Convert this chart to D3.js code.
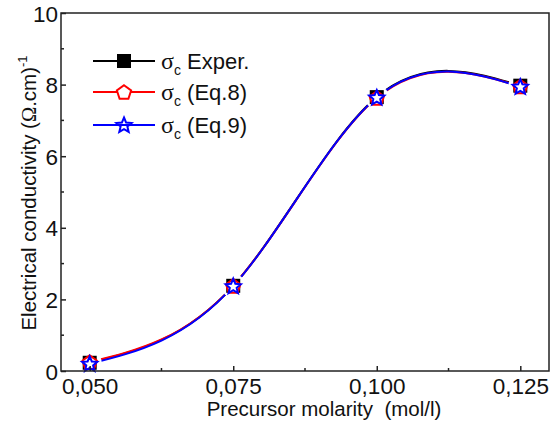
<!DOCTYPE html>
<html>
<head>
<meta charset="utf-8">
<script src="https://cdn.jsdelivr.net/npm/d3@7"></script>
<style>
  body { margin: 0; background: #fff; }
  text { font-family: "Liberation Sans", Arial, sans-serif; }
</style>
</head>
<body>
<script>
// data
const molarity = [0.050, 0.075, 0.100, 0.125];
const sigmaExper = [0.23, 2.38, 7.65, 7.97];
const sigmaEq8 = [0.25, 2.38, 7.63, 7.95];
const sigmaEq9 = [0.20, 2.37, 7.64, 7.94];
const xTicks = [0.050, 0.075, 0.100, 0.125];
const yTicks = [0, 2, 4, 6, 8, 10];
const seriesNames = ["Exper.", "(Eq.8)", "(Eq.9)"];

const w = 555;
const h = 425;
const margin = { left: 61, right: 6, top: 13, bottom: 54 };

const x = d3.scaleLinear().domain([0.045, 0.130]).range([margin.left, w - margin.right]);
const y = d3.scaleLinear().domain([0, 10]).range([h - margin.bottom, margin.top]);

const fmt = v => d3.format(".3f")(v).replace(".", ",");

const svg = d3.select("body").append("svg").attr("width", w).attr("height", h);

const series = [
  { name: seriesNames[0], values: sigmaExper, color: "#000000", symbol: "square" },
  { name: seriesNames[1], values: sigmaEq8, color: "#ff0000", symbol: "pentagon" },
  { name: seriesNames[2], values: sigmaEq9, color: "#0000ff", symbol: "star" },
];

// mask so the curves stop short of the symbols
const defs = svg.append("defs");
const mask = defs.append("mask").attr("id", "gaps").attr("maskUnits", "userSpaceOnUse")
  .attr("x", 0).attr("y", 0).attr("width", w).attr("height", h);
mask.append("rect").attr("width", w).attr("height", h).attr("fill", "#fff");
mask.selectAll("circle").data(molarity).enter().append("circle")
  .attr("cx", d => x(d))
  .attr("cy", (d, i) => y(sigmaExper[i]))
  .attr("r", 12)
  .attr("fill", "#000");

const line = d3.line()
  .x((d, i) => x(molarity[i]))
  .y(d => y(d))
  .curve(d3.curveNatural);

const curves = svg.append("g").attr("mask", "url(#gaps)");
series.forEach(s => {
  curves.append("path")
    .attr("d", line(s.values))
    .attr("fill", "none")
    .attr("stroke", s.color)
    .attr("stroke-width", 2);
});

// symbol shapes
function pentagon(r) {
  const pts = d3.range(5).map(k => {
    const a = -Math.PI / 2 + k * 2 * Math.PI / 5;
    return [r * Math.cos(a), r * Math.sin(a)];
  });
  return "M" + pts.join("L") + "Z";
}
function star(r) {
  const pts = d3.range(10).map(k => {
    const a = -Math.PI / 2 + k * Math.PI / 5;
    const rr = k % 2 ? r * 0.45 : r;
    return [rr * Math.cos(a), rr * Math.sin(a)];
  });
  return "M" + pts.join("L") + "Z";
}

function drawSymbol(g, s, cx, cy) {
  if (s.symbol === "square") {
    g.append("rect").attr("x", cx - 7).attr("y", cy - 7).attr("width", 14).attr("height", 14)
      .attr("fill", s.color);
  } else if (s.symbol === "pentagon") {
    g.append("path").attr("d", pentagon(7.5)).attr("transform", `translate(${cx},${cy + 0.8})`)
      .attr("fill", "#fff").attr("stroke", s.color).attr("stroke-width", 2);
  } else {
    g.append("path").attr("d", star(8)).attr("transform", `translate(${cx},${cy + 0.5})`)
      .attr("fill", "none").attr("stroke", s.color).attr("stroke-width", 2);
  }
}

const symbols = svg.append("g");
series.forEach(s => {
  s.values.forEach((v, i) => drawSymbol(symbols, s, x(molarity[i]), y(v)));
});

// axes, ticks inside
const axisColor = "#222";
const xAxis = svg.append("g").attr("transform", `translate(0,${h - margin.bottom})`)
  .call(d3.axisBottom(x).tickValues(xTicks).tickSizeInner(-5).tickSizeOuter(0).tickPadding(7).tickFormat(fmt));
xAxis.append("g").selectAll("line")
  .data(d3.range(0.0625, 0.13, 0.025))
  .enter().append("line")
  .attr("x1", d => x(d)).attr("x2", d => x(d)).attr("y1", 0).attr("y2", -3);

const yAxis = svg.append("g").attr("transform", `translate(${margin.left},0)`)
  .call(d3.axisLeft(y).tickValues(yTicks).tickSizeInner(-5).tickSizeOuter(0).tickPadding(3));
yAxis.append("g").selectAll("line")
  .data([1, 3, 5, 7, 9])
  .enter().append("line")
  .attr("y1", d => y(d)).attr("y2", d => y(d)).attr("x1", 0).attr("x2", 3);

[xAxis, yAxis].forEach(a => {
  a.select(".domain").remove();
  a.selectAll("line").attr("stroke", axisColor).attr("stroke-width", 1.5);
  a.selectAll("text").attr("font-size", 22.5).attr("fill", "#111")
    .attr("font-family", "'Liberation Sans', Arial, sans-serif");
});
yAxis.selectAll(".tick text").attr("dy", "0.36em");

svg.append("rect")
  .attr("x", margin.left).attr("y", margin.top)
  .attr("width", w - margin.right - margin.left)
  .attr("height", h - margin.bottom - margin.top)
  .attr("fill", "none")
  .attr("stroke", axisColor)
  .attr("stroke-width", 1.5);

// axis titles
svg.append("text")
  .attr("x", (margin.left + w - margin.right) / 2 + 19)
  .attr("y", 416)
  .attr("text-anchor", "middle")
  .attr("font-size", 20.5)
  .attr("fill", "#111")
  .attr("xml:space", "preserve")
  .text("Precursor molarity  (mol/l)");

const yt = svg.append("text")
  .attr("transform", "translate(36,193) rotate(-90)")
  .attr("text-anchor", "middle")
  .attr("font-size", 20.5)
  .attr("fill", "#111");
yt.append("tspan").text("Electrical conductivity (");
yt.append("tspan").attr("font-family", "'Liberation Serif', serif").text("Ω");
yt.append("tspan").text(".cm)");
yt.append("tspan").attr("font-size", 13).attr("dy", -9).text("-1");

// legend
const legend = svg.append("g");
const rowY = [61, 92, 125];
series.forEach((s, i) => {
  const g = legend.append("g");
  g.append("line").attr("x1", 93).attr("x2", 155).attr("y1", rowY[i]).attr("y2", rowY[i])
    .attr("stroke", s.color).attr("stroke-width", 2);
  drawSymbol(g, s, 124, rowY[i]);
  const t = g.append("text").attr("x", 161).attr("y", rowY[i] + 8).attr("font-size", 22).attr("fill", "#111")
    .attr("xml:space", "preserve");
  t.append("tspan").attr("font-family", "'Liberation Serif', serif").attr("font-size", 24).text("σ");
  t.append("tspan").attr("font-size", 14).attr("dy", 6).text("c");
  t.append("tspan").attr("dy", -6).text(" " + s.name);
});
</script>
</body>
</html>
